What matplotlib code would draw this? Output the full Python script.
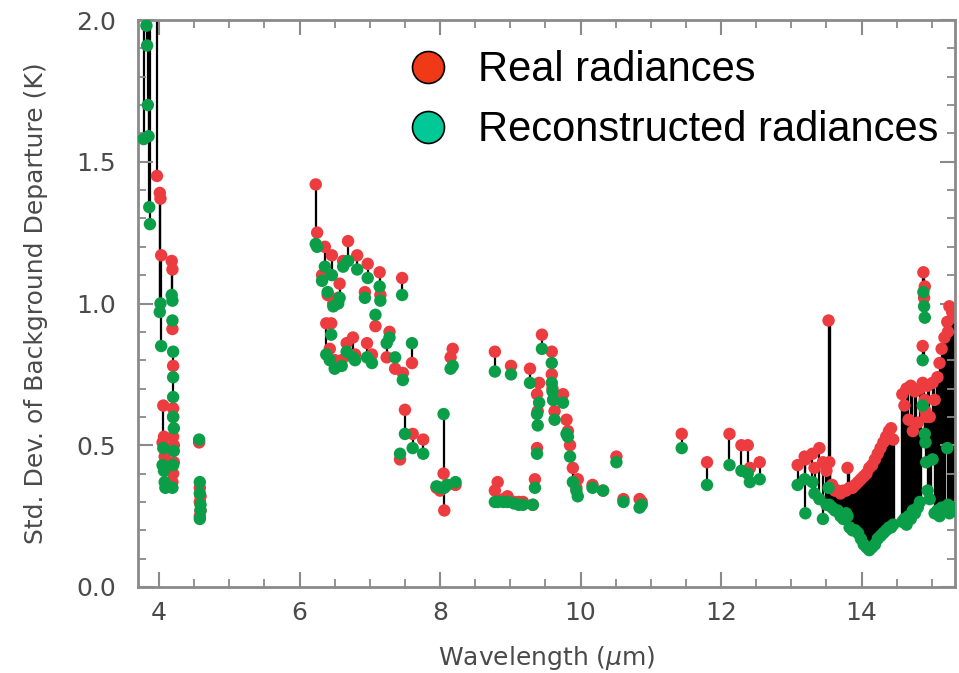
import numpy as np
import matplotlib
matplotlib.use("Agg")
import matplotlib.pyplot as plt
from matplotlib.ticker import MultipleLocator

# --- data: wavelength (um), real / reconstructed std dev (K)
# shortwave band (values above 2.0 are off the chart)
wl_sw = [3.78, 3.82, 3.83, 3.84, 3.85, 3.86, 3.87, 3.97,
         4.01, 4.02, 4.03, 4.05, 4.06, 4.07, 4.08, 4.09,
         4.18, 4.19, 4.19, 4.20, 4.20, 4.20, 4.21, 4.21, 4.20, 4.19, 4.20,
         4.57, 4.58, 4.58, 4.59, 4.58, 4.59]
real_sw = [2.05, 2.20, 2.10, 2.30, 2.15, 2.20, 2.10, 1.45,
           1.39, 1.37, 1.17, 0.51, 0.64, 0.53, 0.46, 0.48,
           1.15, 1.12, 0.91, 0.78, 0.63, 0.53, 0.44, 0.50, 0.40, 0.37, 0.60,
           0.51, 0.35, 0.30, 0.27, 0.25, 0.32]
rec_sw = [1.58, 1.98, 1.91, 1.70, 1.59, 1.34, 1.28, 2.20,
          0.97, 1.00, 0.85, 0.43, 0.49, 0.41, 0.37, 0.35,
          1.03, 1.01, 0.94, 0.83, 0.74, 0.67, 0.56, 0.48, 0.43, 0.35, 0.60,
          0.52, 0.37, 0.33, 0.29, 0.24, 0.27]

# water vapour band
wl_wv = [6.23, 6.25, 6.32, 6.36, 6.38, 6.40, 6.43, 6.45, 6.46, 6.48, 6.50,
         6.55, 6.57, 6.60, 6.62, 6.67, 6.69, 6.76, 6.79, 6.82, 6.93, 6.96,
         6.97, 7.03, 7.08, 7.14, 7.15, 7.24, 7.28, 7.36, 7.43, 7.46, 7.47,
         7.50, 7.60, 7.61, 7.76, 7.95, 8.00, 8.05, 8.06, 8.10, 8.15, 8.18, 8.22]
real_wv = [1.42, 1.25, 1.10, 1.20, 0.93, 1.03, 0.84, 0.93, 1.17, 1.00, 0.80,
           1.02, 1.07, 0.80, 1.15, 0.86, 1.22, 0.88, 0.82, 1.17, 1.04, 0.86,
           1.14, 0.82, 0.92, 1.11, 1.03, 0.81, 0.90, 0.77, 0.45, 1.09, 0.755,
           0.625, 0.79, 0.54, 0.52, 0.35, 0.34, 0.40, 0.27, 0.36, 0.81, 0.84, 0.36]
rec_wv = [1.21, 1.20, 1.08, 1.13, 0.82, 1.04, 0.80, 0.89, 1.10, 0.99, 0.77,
          1.00, 1.02, 0.78, 1.13, 0.83, 1.15, 0.81, 0.80, 1.12, 1.02, 0.81,
          1.09, 0.79, 0.96, 1.06, 1.01, 0.86, 0.88, 0.81, 0.47, 1.03, 0.73,
          0.54, 0.86, 0.49, 0.47, 0.355, 0.35, 0.61, 0.35, 0.36, 0.77, 0.78, 0.37]

# window / ozone band
wl_win = [8.78, 8.78, 8.82, 8.90, 8.96, 9.01, 9.05, 9.12, 9.18, 9.28, 9.32,
          9.35, 9.38, 9.38, 9.39, 9.41, 9.45, 9.59, 9.59, 9.60, 9.61, 9.63,
          9.75, 9.80, 9.82, 9.85, 9.89, 9.94, 9.96, 10.17, 10.32, 10.51,
          10.61, 10.84, 10.87]
real_win = [0.83, 0.34, 0.37, 0.31, 0.32, 0.78, 0.30, 0.30, 0.30, 0.77, 0.29,
            0.38, 0.49, 0.68, 0.62, 0.72, 0.89, 0.83, 0.75, 0.70, 0.66, 0.62,
            0.68, 0.59, 0.55, 0.50, 0.42, 0.35, 0.38, 0.36, 0.34, 0.46,
            0.31, 0.31, 0.30]
rec_win = [0.76, 0.30, 0.30, 0.30, 0.30, 0.75, 0.295, 0.29, 0.29, 0.72, 0.29,
           0.35, 0.47, 0.61, 0.57, 0.65, 0.84, 0.79, 0.72, 0.69, 0.66, 0.59,
           0.65, 0.54, 0.53, 0.46, 0.37, 0.34, 0.32, 0.35, 0.34, 0.44,
           0.30, 0.28, 0.29]

# longwave window
wl_lw = [11.44, 11.80, 12.12, 12.29, 12.38, 12.41, 12.55,
         13.09, 13.19, 13.20, 13.30, 13.33, 13.40, 13.45]
real_lw = [0.54, 0.44, 0.54, 0.50, 0.50, 0.42, 0.44,
           0.43, 0.46, 0.45, 0.47, 0.42, 0.49, 0.44]
rec_lw = [0.49, 0.36, 0.43, 0.41, 0.40, 0.37, 0.38,
          0.36, 0.38, 0.26, 0.37, 0.33, 0.31, 0.24]

# CO2 band (dense channels)
wl_co2 = [13.50, 13.53, 13.54, 13.58, 13.62, 13.66, 13.70, 13.74, 13.78, 13.80,
          13.83, 13.87, 13.91, 13.95, 13.99, 14.03, 14.07, 14.11, 14.15, 14.19,
          14.23, 14.27, 14.31, 14.35, 14.39, 14.42, 14.45,
          14.58, 14.61, 14.64, 14.67, 14.70, 14.73, 14.76, 14.80, 14.83, 14.87,
          14.87, 14.88, 14.89, 14.90, 14.90, 14.91, 14.92, 14.94, 14.97, 15.01,
          15.04, 15.08, 15.11, 15.14, 15.18, 15.22, 15.23, 15.25, 15.29, 15.33]
real_co2 = [0.41, 0.94, 0.44, 0.36, 0.34, 0.34, 0.33, 0.34, 0.34, 0.42,
            0.35, 0.35, 0.36, 0.37, 0.38, 0.39, 0.40, 0.42, 0.43, 0.45,
            0.47, 0.49, 0.51, 0.53, 0.55, 0.56, 0.52,
            0.68, 0.64, 0.70, 0.59, 0.71, 0.55, 0.69, 0.58, 0.70, 0.72,
            0.85, 1.11, 1.02, 1.06, 0.66, 0.62, 0.60, 0.71, 0.60, 0.72,
            0.66, 0.74, 0.79, 0.84, 0.88, 0.935, 0.90, 0.99, 0.97, 0.95]
rec_co2 = [0.29, 0.35, 0.29, 0.28, 0.27, 0.27, 0.25, 0.24, 0.26, 0.25,
           0.21, 0.20, 0.20, 0.19, 0.17, 0.15, 0.14, 0.13, 0.14, 0.15,
           0.17, 0.18, 0.19, 0.20, 0.21, 0.21, 0.22,
           0.23, 0.24, 0.22, 0.25, 0.24, 0.27, 0.26, 0.28, 0.30, 0.64,
           0.80, 1.04, 0.99, 0.95, 0.54, 0.51, 0.44, 0.34, 0.31, 0.45,
           0.26, 0.27, 0.25, 0.28, 0.27, 0.49, 0.29, 0.26, 0.28, 0.27]

bands = [(wl_sw, real_sw, rec_sw, 1.6), (wl_wv, real_wv, rec_wv, 1.6),
         (wl_win, real_win, rec_win, 1.6), (wl_lw, real_lw, rec_lw, 1.6),
         (wl_co2, real_co2, rec_co2, 2.4)]

red = "#ec3c3f"
green = "#0b9e48"
grey = "#8a8a8a"
txt = "#4a4a4a"

fig = plt.figure(figsize=(9.59, 6.73), dpi=100)
ax = fig.add_axes([138/959, 1-587/673, 817/959, 567/673])

for wl, r, g, lw in bands:
    ax.vlines(wl, r, g, colors="black", linewidth=lw, zorder=1)
for wl, r, g, lw in bands:
    ax.scatter(wl, r, s=80, color=red, edgecolors="none", zorder=2)
for wl, r, g, lw in bands:
    ax.scatter(wl, g, s=80, color=green, edgecolors="none", zorder=3)

ax.set_xlim(3.70, 15.33)
ax.set_ylim(0, 2.0)
ax.xaxis.set_major_locator(MultipleLocator(2))
ax.xaxis.set_minor_locator(MultipleLocator(0.5))
ax.yaxis.set_major_locator(MultipleLocator(0.5))
ax.yaxis.set_minor_locator(MultipleLocator(0.1))
ax.yaxis.set_major_formatter(matplotlib.ticker.FormatStrFormatter("%.1f"))
ax.tick_params(which="both", direction="in", top=True, right=True, color=grey,
               labelcolor=txt, labelsize=18)
ax.tick_params(which="major", length=11, width=1.5)
ax.tick_params(which="minor", length=6, width=1.3)
ax.tick_params(axis="x", which="major", pad=10)
ax.tick_params(axis="y", which="major", pad=16)
for sp in ax.spines.values():
    sp.set_color(grey)
    sp.set_linewidth(2)

ax.set_xlabel("Wavelength ($\\mu$m)", fontsize=18, color=txt, labelpad=14)
ax.set_ylabel("Std. Dev. of Background Departure (K)", fontsize=18, color=txt, labelpad=20)

# legend drawn by hand
lx = (428-138)/817
for yy, col, lab in [(0.917, "#f03a17", "Real radiances"),
                     (0.811, "#00c896", "Reconstructed radiances")]:
    ax.plot([lx], [yy], "o", ms=23, mfc=col, mec="black", mew=1.2,
            transform=ax.transAxes, clip_on=False, zorder=5)
    ax.text(lx + 0.061, yy - 0.005, lab, transform=ax.transAxes, fontsize=30,
            family="Liberation Sans", va="center", ha="left", color="black", zorder=5)

fig.savefig("out.png", dpi=100)
